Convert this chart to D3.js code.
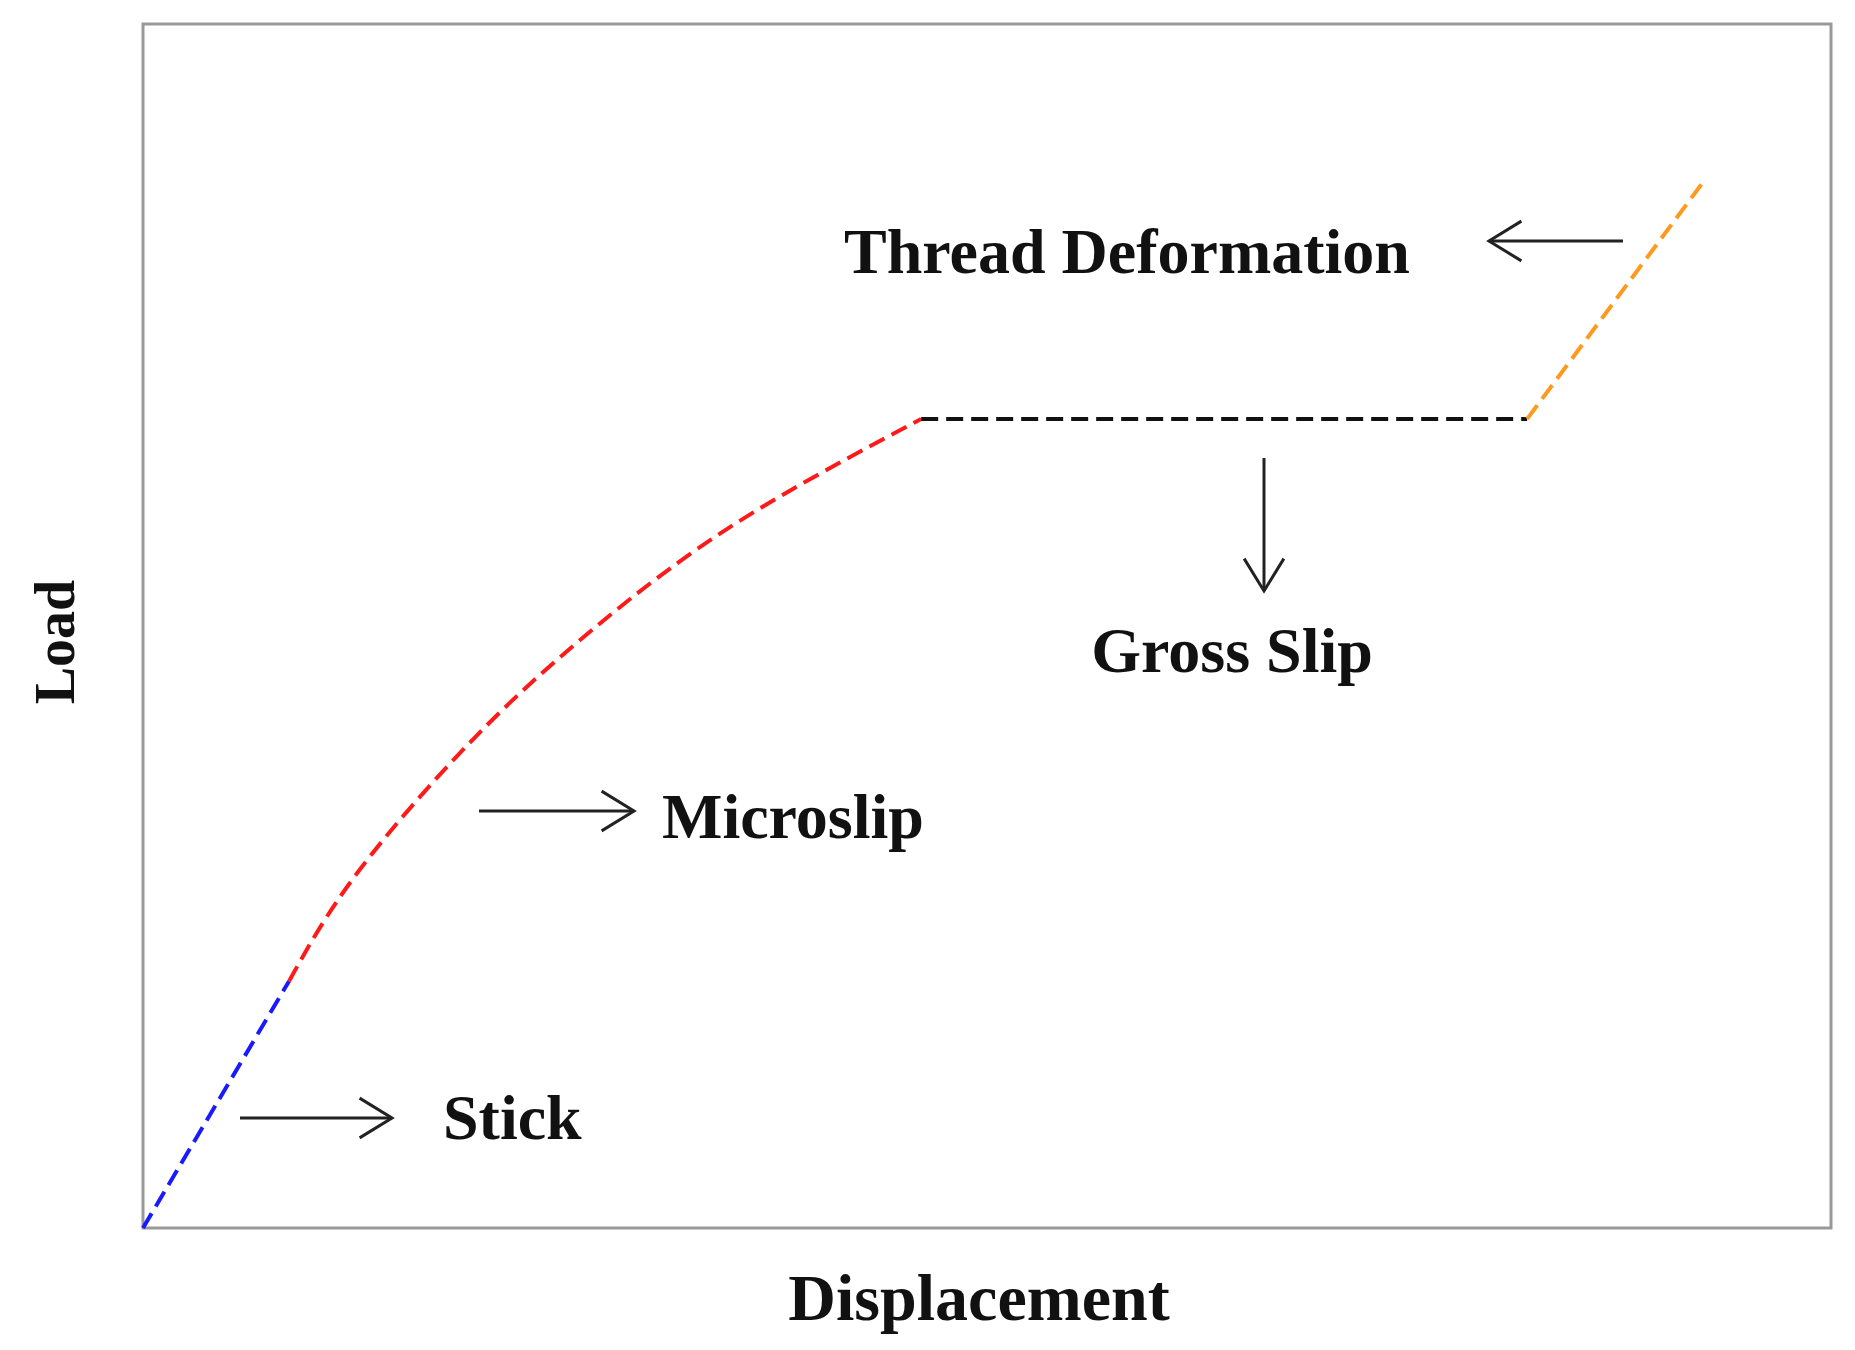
<!DOCTYPE html>
<html>
<head>
<meta charset="utf-8">
<script src="https://cdn.jsdelivr.net/npm/d3@7"></script>
<style>
body { margin: 0; background: #fff; }
text { font-family: "Liberation Serif", "DejaVu Serif", serif; font-weight: bold; fill: #111; }
</style>
</head>
<body>
<div id="chart"></div>
<script>
// curve segments, in percent of the plot box
const stickPts = [[0, 0], [8.65, 20.5]];
const microslipPts = [[8.65, 20.5], [12.7, 29.5], [19.7, 40.8], [26.8, 49.9], [35.2, 58.6], [46.1, 67.2]];
const grossPts = [[46.1, 67.2], [82.0, 67.2]];
const threadPts = [[82.0, 67.2], [92.6, 87.2]];
const segColors = ["#1a1aff", "#ff1a1a", "#111111", "#ff9a1f"];

const labels = [
    { text: "Thread Deformation", x: 1127, y: 273, anchor: "middle", size: 64 },
    { text: "Gross Slip", x: 1232, y: 672, anchor: "middle", size: 64 },
    { text: "Microslip", x: 662, y: 838, anchor: "start", size: 64 },
    { text: "Stick", x: 443, y: 1139, anchor: "start", size: 64 },
    { text: "Displacement", x: 979, y: 1320, anchor: "middle", size: 66 }
];
const arrows = [
    [1623, 241, 1489, 241],
    [1264, 458, 1264, 591],
    [479, 811, 634, 811],
    [240, 1118, 392, 1118]
];

const svg = d3.select("#chart").append("svg")
    .attr("width", 1855)
    .attr("height", 1350);

const x = d3.scaleLinear().domain([0, 100]).range([143, 1831]);
const y = d3.scaleLinear().domain([0, 100]).range([1228, 24]);

svg.append("rect")
    .attr("x", x(0)).attr("y", y(100))
    .attr("width", x(100) - x(0)).attr("height", y(0) - y(100))
    .style("fill", "none").style("stroke", "#999").style("stroke-width", 3);

const line = d3.line().x(d => x(d[0])).y(d => y(d[1])).curve(d3.curveNatural);

[stickPts, microslipPts, grossPts, threadPts].forEach((pts, i) => {
    svg.append("path")
        .attr("d", line(pts))
        .style("fill", "none")
        .style("stroke", segColors[i])
        .style("stroke-width", 4)
        .style("stroke-dasharray", "17,8");
});

// arrows with open heads
arrows.forEach(a => {
    const [x1, y1, x2, y2] = a;
    const ang = Math.atan2(y2 - y1, x2 - x1);
    const h = 38, w = 0.55;
    svg.append("line")
        .attr("x1", x1).attr("y1", y1).attr("x2", x2).attr("y2", y2)
        .style("stroke", "#222").style("stroke-width", 3);
    svg.append("path")
        .attr("d", "M" + (x2 - h * Math.cos(ang - w)) + "," + (y2 - h * Math.sin(ang - w))
            + "L" + x2 + "," + y2
            + "L" + (x2 - h * Math.cos(ang + w)) + "," + (y2 - h * Math.sin(ang + w)))
        .style("fill", "none").style("stroke", "#222").style("stroke-width", 3);
});

labels.forEach(l => {
    svg.append("text")
        .attr("x", l.x).attr("y", l.y)
        .attr("text-anchor", l.anchor)
        .style("font-size", l.size + "px")
        .text(l.text);
});

svg.append("text")
    .attr("transform", "translate(74,642) rotate(-90)")
    .attr("text-anchor", "middle")
    .style("font-size", "56px")
    .text("Load");
</script>
</body>
</html>
